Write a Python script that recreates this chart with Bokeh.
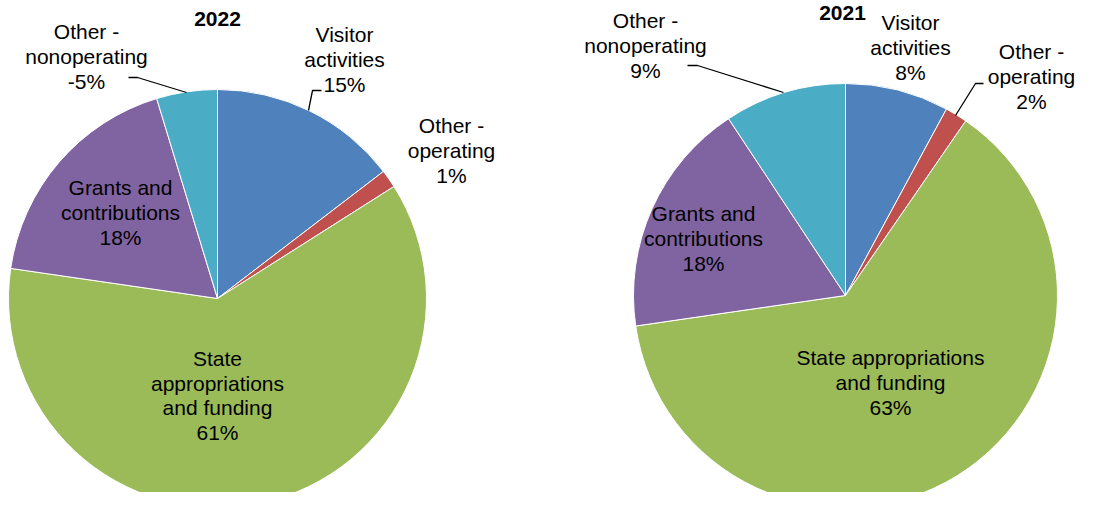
from bokeh.plotting import figure
from bokeh.models import Range1d
from bokeh.core.properties import value
from bokeh.embed import file_html
from bokeh.resources import INLINE
import math

# ---- data ----
categories = ["Visitor activities", "Other - operating", "State appropriations and funding",
              "Grants and contributions", "Other - nonoperating"]
colors = ["#4F81BD", "#C0504D", "#9BBB59", "#8064A2", "#4BACC6"]
values_2022 = [14.6, 1.4, 61.3, 18.0, 4.7]
values_2021 = [7.9, 1.7, 63.1, 18.0, 9.3]
pct_2022 = ["15%", "1%", "61%", "18%", "-5%"]
pct_2021 = ["8%", "2%", "63%", "18%", "9%"]
names_2022 = ["Visitor\nactivities", "Other -\noperating", "State\nappropriations\nand funding",
              "Grants and\ncontributions", "Other -\nnonoperating"]
names_2021 = ["Visitor\nactivities", "Other -\noperating", "State appropriations\nand funding",
              "Grants and\ncontributions", "Other -\nnonoperating"]

W, H = 1078, 492
FONT = "Liberation Sans"

def Y(py):
    return H - py

p = figure(width=W, height=H, x_range=Range1d(0, W), y_range=Range1d(0, H),
           output_backend="svg", toolbar_location=None, min_border=0)
p.axis.visible = False
p.grid.visible = False
p.outline_line_color = None
p.background_fill_color = "white"

def draw_pie(cx, cy, r, vals):
    total = sum(vals)
    cum = 0.0
    starts, ends = [], []
    for v in vals:
        starts.append(math.pi / 2 - 2 * math.pi * cum / total)
        cum += v
        ends.append(math.pi / 2 - 2 * math.pi * cum / total)
    p.wedge(x=[cx] * len(vals), y=[cy] * len(vals), radius=r,
            start_angle=starts, end_angle=ends, direction="clock",
            fill_color=colors, line_color="white", line_width=1)

draw_pie(217, Y(298), 209, values_2022)
draw_pie(845, Y(295), 212, values_2021)

def label(x, py, txt, bold=False):
    p.text(x=[x], y=[Y(py)], text=[txt], text_font=value(FONT),
           text_font_size="21px", text_align="center", text_baseline="middle",
           text_color="black", text_line_height=1.07,
           text_font_style="bold" if bold else "normal")

# titles
label(217, 18, "2022", bold=True)
label(842, 12, "2021", bold=True)

# 2022 labels: (x, center y) per category
pos_2022 = [(344, 59), (451, 150), (217, 395), (120, 212), (86, 56)]
for (x, py), n, pc in zip(pos_2022, names_2022, pct_2022):
    label(x, py, n + "\n" + pc)

pos_2021 = [(910, 47), (1031, 76), (890, 382), (703, 238), (645, 45)]
for (x, py), n, pc in zip(pos_2021, names_2021, pct_2021):
    label(x, py, n + "\n" + pc)

# leader lines
leaders = [
    [(128, 77), (137, 77), (186, 92)],
    [(321, 90), (312, 90), (308, 110)],
    [(687, 65), (697, 65), (783, 92)],
    [(983, 83), (975, 83), (955, 115)],
]
for pts in leaders:
    p.line(x=[a for a, b in pts], y=[Y(b) for a, b in pts], line_color="black", line_width=1.3)

open("out.html", "w").write(file_html(p, INLINE))
